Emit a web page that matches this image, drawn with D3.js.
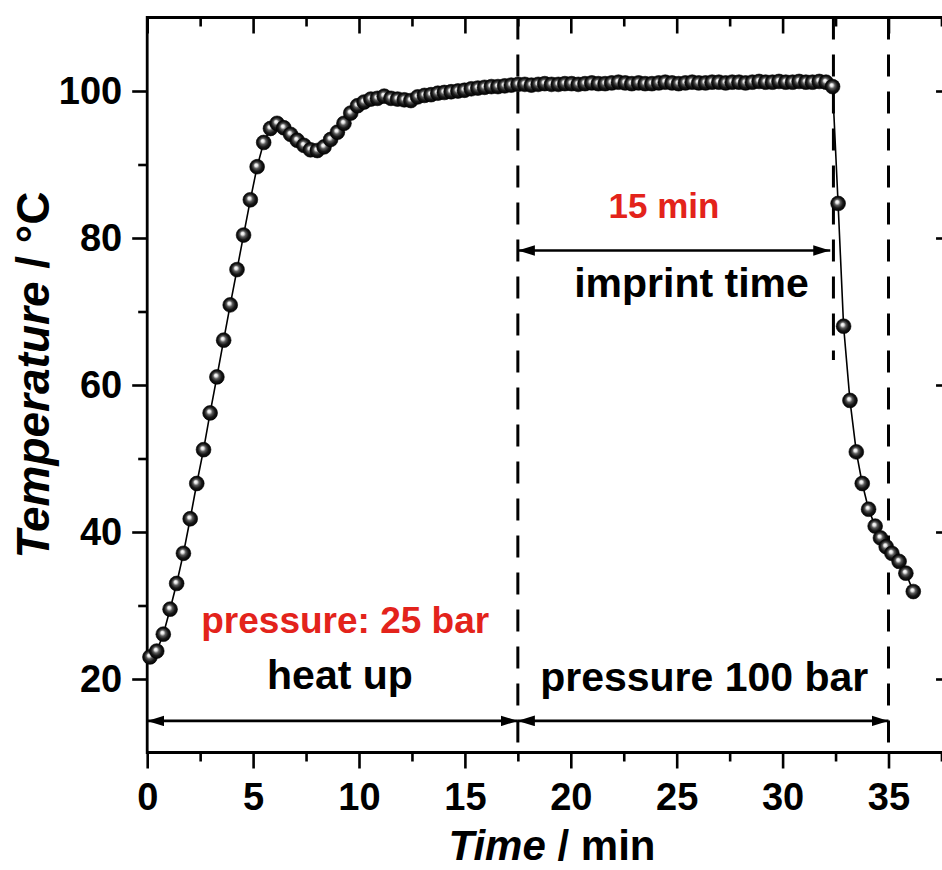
<!DOCTYPE html>
<html>
<head>
<meta charset="utf-8">
<script src="https://cdn.jsdelivr.net/npm/d3@7"></script>
<style>
  html, body { margin: 0; padding: 0; background: #fff; }
  svg { display: block; font-family: "Liberation Sans", Arial, Helvetica, sans-serif; }
</style>
</head>
<body>
<svg id="chart" width="942" height="870"></svg>
<script>
// Temperature log of the imprint cycle (time in min, temperature in °C)
const timeMin = [
  0.13, 0.45, 0.76, 1.08, 1.39, 1.71, 2.03, 2.34, 2.66, 2.97,
  3.29, 3.61, 3.92, 4.24, 4.55, 4.87, 5.19, 5.50, 5.82, 6.13,
  6.45, 6.77, 7.08, 7.40, 7.71, 8.03, 8.35, 8.66, 8.98, 9.29,
  9.61, 9.93, 10.24, 10.56, 10.87, 11.19, 11.51, 11.82, 12.14, 12.45,
  12.77, 13.09, 13.40, 13.72, 14.03, 14.35, 14.67, 14.98, 15.30, 15.61,
  15.93, 16.25, 16.56, 16.88, 17.19, 17.51, 17.83, 18.14, 18.46, 18.77,
  19.09, 19.41, 19.72, 20.04, 20.35, 20.67, 20.99, 21.30, 21.62, 21.93,
  22.25, 22.57, 22.88, 23.20, 23.51, 23.83, 24.15, 24.46, 24.78, 25.09,
  25.41, 25.73, 26.04, 26.36, 26.67, 26.99, 27.31, 27.62, 27.94, 28.25,
  28.57, 28.89, 29.20, 29.52, 29.83, 30.15, 30.47, 30.78, 31.10, 31.41,
  31.73, 32.05, 32.36,
  32.62, 32.88, 33.18, 33.48, 33.76, 34.06, 34.37, 34.62, 34.89, 35.16,
  35.50, 35.82, 36.17
];
const temperature = [
  23.0, 23.8, 26.1, 29.5, 33.0, 37.1, 41.8, 46.6, 51.2, 56.2,
  61.1, 66.1, 70.9, 75.7, 80.4, 85.2, 89.7, 93.0, 94.9, 95.6,
  95.0, 94.1, 93.3, 92.6, 92.0, 91.9, 92.4, 93.4, 94.4, 95.6,
  97.0, 98.0, 98.5, 98.9, 99.0, 99.3, 99.0, 98.9, 98.8, 98.7,
  99.2, 99.4, 99.5, 99.7, 99.8, 99.9, 100.0, 100.1, 100.3, 100.4,
  100.5, 100.6, 100.6, 100.7, 100.8, 100.9, 100.9, 100.8, 100.9, 101.0,
  100.9, 100.9, 101.0, 101.0, 100.9, 101.0, 101.1, 101.0, 101.0, 101.1,
  101.2, 101.1, 101.0, 101.1, 101.0, 101.0, 101.1, 101.2, 101.1, 101.0,
  101.1, 101.2, 101.1, 101.1, 101.2, 101.2, 101.1, 101.2, 101.2, 101.1,
  101.2, 101.3, 101.2, 101.2, 101.3, 101.2, 101.2, 101.3, 101.2, 101.2,
  101.3, 101.2, 100.6,
  84.7, 68.0, 57.9, 50.9, 46.6, 43.1, 40.8, 39.2, 38.0, 37.1,
  36.0, 34.4, 31.9
];

const xMajorTicks = [0, 5, 10, 15, 20, 25, 30, 35];
const xMinorTicks = [2.5, 7.5, 12.5, 17.5, 22.5, 27.5, 32.5, 37.5];
const yMajorTicks = [20, 40, 60, 80, 100];
const yMinorTicks = [30, 50, 70, 90];

// phase boundaries: [time, lower temperature end of the dashed line]
const phaseBoundaries = [[17.5, 10], [32.4, 63.4], [35, 10]];

// double arrows: [from time, to time, at temperature]
const spanArrows = [[0, 17.5, 14.3], [17.5, 35, 14.3], [17.5, 32.25, 78.3]];

// text notes: [text, time, temperature, colour, size]
const notes = [
  ["pressure: 25 bar", 9.35, 26.3, "#e3231b", 37],
  ["heat up", 9.1, 18.6, "#000", 41],
  ["pressure 100 bar", 26.3, 18.3, "#000", 41],
  ["15 min", 24.4, 82.7, "#e3231b", 35],
  ["imprint time", 25.7, 72.0, "#000", 41]
];

const svg = d3.select("#chart");
const x = d3.scaleLinear().domain([0, 38]).range([147.2, 147.2 + 38 * 21.18]);
const y = d3.scaleLinear().domain([10, 110]).range([752.5, 17.5]);

const defs = svg.append("defs");
const grad = defs.append("radialGradient").attr("id", "ball")
  .attr("cx", "0.5").attr("cy", "0.5").attr("r", "0.52")
  .attr("fx", "0.42").attr("fy", "0.38");
[["0%", "#ffffff"], ["18%", "#e6e6e6"], ["40%", "#5c5c5c"], ["68%", "#181818"], ["100%", "#000000"]]
  .forEach(([o, c]) => grad.append("stop").attr("offset", o).attr("stop-color", c));

const marker = defs.append("marker").attr("id", "head")
  .attr("viewBox", "0 0 16 10").attr("refX", 16).attr("refY", 5)
  .attr("markerUnits", "userSpaceOnUse")
  .attr("markerWidth", 17).attr("markerHeight", 11)
  .attr("orient", "auto-start-reverse");
marker.append("path").attr("d", "M0,0 L16,5 L0,10 Z").attr("fill", "#000");

const [x0, x1] = x.range();
const [yb, yt] = y.range();

function styleAxis(g) {
  g.select(".domain").remove();
  g.selectAll(".tick line").attr("stroke", "#000").attr("stroke-width", 2.6);
  g.selectAll("text").attr("fill", "#000").attr("font-family", "Liberation Sans, Arial, sans-serif")
    .attr("font-weight", "bold").attr("font-size", 38);
}

// bottom axis (outward ticks, labelled)
svg.append("g").attr("transform", `translate(0,${yb})`)
  .call(d3.axisBottom(x).tickValues(xMajorTicks).tickSize(16).tickPadding(15).tickFormat(d3.format("d")))
  .call(styleAxis);
svg.append("g").attr("transform", `translate(0,${yb})`)
  .call(d3.axisBottom(x).tickValues(xMinorTicks).tickSize(9).tickFormat(""))
  .call(styleAxis);
// top axis (inward ticks)
svg.append("g").attr("transform", `translate(0,${yt})`)
  .call(d3.axisTop(x).tickValues(xMajorTicks).tickSize(-16).tickFormat(""))
  .call(styleAxis);
svg.append("g").attr("transform", `translate(0,${yt})`)
  .call(d3.axisTop(x).tickValues(xMinorTicks).tickSize(-9).tickFormat(""))
  .call(styleAxis);
// left axis (outward ticks, labelled)
svg.append("g").attr("transform", `translate(${x0},0)`)
  .call(d3.axisLeft(y).tickValues(yMajorTicks).tickSize(15).tickPadding(10).tickFormat(d3.format("d")))
  .call(styleAxis);
svg.append("g").attr("transform", `translate(${x0},0)`)
  .call(d3.axisLeft(y).tickValues(yMinorTicks).tickSize(9).tickFormat(""))
  .call(styleAxis);
// right axis (inward ticks)
svg.append("g").attr("transform", `translate(${x1},0)`)
  .call(d3.axisRight(y).tickValues(yMajorTicks).tickSize(-16).tickFormat(""))
  .call(styleAxis);
svg.append("g").attr("transform", `translate(${x1},0)`)
  .call(d3.axisRight(y).tickValues(yMinorTicks).tickSize(-9).tickFormat(""))
  .call(styleAxis);

// frame
svg.append("path")
  .attr("d", `M${x0},${yb} H${x1} V${yt} H${x0} Z`)
  .attr("fill", "none").attr("stroke", "#000").attr("stroke-width", 2.8)
  .attr("stroke-linejoin", "miter");

// axis titles
const xTitle = svg.append("text").attr("x", 552).attr("y", 860).attr("text-anchor", "middle")
  .attr("font-size", 42).attr("font-weight", "bold").attr("fill", "#000");
xTitle.append("tspan").attr("font-style", "italic").text("Time");
xTitle.append("tspan").text(" / min");

const yTitle = svg.append("text").attr("transform", "translate(49,375) rotate(-90)")
  .attr("text-anchor", "middle").attr("font-size", 46).attr("font-weight", "bold").attr("fill", "#000");
yTitle.append("tspan").attr("font-style", "italic").text("Temperature");
yTitle.append("tspan").text(" / °C");

// phase boundaries
svg.append("g").selectAll("line").data(phaseBoundaries).join("line")
  .attr("x1", d => x(d[0])).attr("x2", d => x(d[0]))
  .attr("y1", y(110)).attr("y2", d => y(d[1]))
  .attr("stroke", "#000").attr("stroke-width", 3)
  .attr("stroke-dasharray", "22,15");

// double-headed span arrows
svg.append("g").selectAll("line").data(spanArrows).join("line")
  .attr("x1", d => x(d[0])).attr("x2", d => x(d[1]))
  .attr("y1", d => y(d[2])).attr("y2", d => y(d[2]))
  .attr("stroke", "#000").attr("stroke-width", 2.6)
  .attr("marker-start", "url(#head)").attr("marker-end", "url(#head)");

// temperature curve
const pts = timeMin.map((t, i) => [t, temperature[i]]);
svg.append("path").datum(pts)
  .attr("d", d3.line().x(d => x(d[0])).y(d => y(d[1])))
  .attr("fill", "none").attr("stroke", "#000").attr("stroke-width", 1.6);

svg.append("g").selectAll("circle").data(pts).join("circle")
  .attr("cx", d => x(d[0])).attr("cy", d => y(d[1])).attr("r", 7.4)
  .attr("fill", "url(#ball)").attr("stroke", "#000").attr("stroke-width", 0.6);

// notes
svg.append("g").selectAll("text").data(notes).join("text")
  .attr("x", d => x(d[1])).attr("y", d => y(d[2]))
  .attr("text-anchor", "middle").attr("font-weight", "bold")
  .attr("font-size", d => d[4]).attr("fill", d => d[3])
  .text(d => d[0]);
</script>
</body>
</html>
